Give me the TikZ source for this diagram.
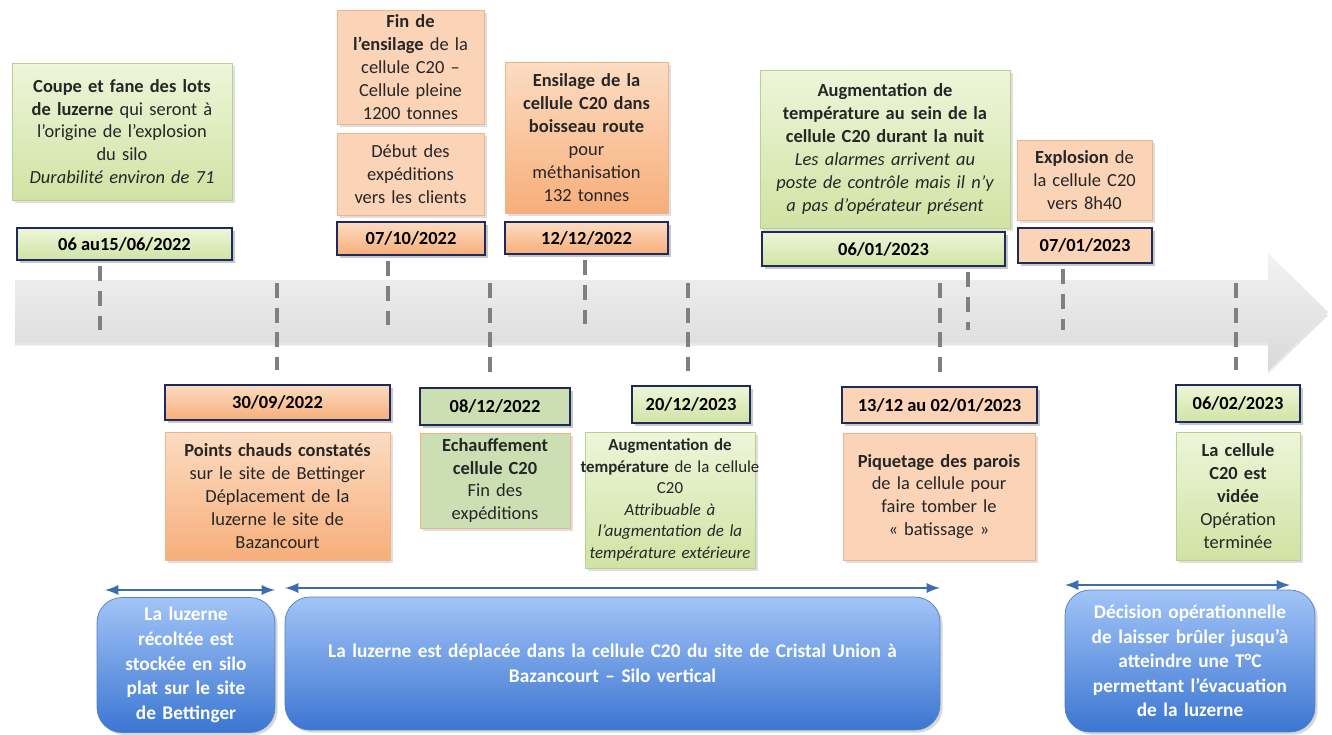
\documentclass[tikz,border=0pt]{standalone}
\usepackage{fontspec}
\setmainfont{Carlito}
\usepackage{tikz}
\usetikzlibrary{shadows}
\usetikzlibrary{arrows,shapes}
\usetikzlibrary{calc}
\definecolor{grnlite}{HTML}{EEF5D9}
\definecolor{grndark}{HTML}{D0E3A4}
\definecolor{grnflat}{HTML}{CCDFB2}
\definecolor{grnline}{HTML}{B9D08F}
\definecolor{orglite}{HTML}{FCDCC2}
\definecolor{orgdark}{HTML}{F7AE7A}
\definecolor{orgflat}{HTML}{FBD3B6}
\definecolor{orgline}{HTML}{EFB48E}
\definecolor{navy}{HTML}{1F2A5C}
\definecolor{bluelite}{HTML}{A2C4F7}
\definecolor{bluedark}{HTML}{3C76D2}
\definecolor{blueline}{HTML}{5082C4}
\definecolor{arrowblue}{HTML}{3C6EAF}
\definecolor{txt}{HTML}{262626}
\tikzstyle{box}=[rectangle,align=center,inner sep=0pt,text=txt,font=\fontsize{10.5}{13}\selectfont,drop shadow={opacity=0.25,shadow xshift=1.5pt,shadow yshift=-1.5pt}]
\tikzstyle{greenbox}=[box,draw=grnline,top color=grnlite,bottom color=grndark]
\tikzstyle{orangebox}=[box,draw=orgline,top color=orglite,bottom color=orgdark]
\tikzstyle{peachbox}=[box,draw=orgline,fill=orgflat]
\tikzstyle{datebox}=[box,draw=navy,line width=1.2pt,text=black,font=\fontsize{10.5}{12}\selectfont\bfseries]
\tikzstyle{phase}=[rectangle,rounded corners=0.5cm,align=center,inner sep=0pt,draw=blueline,top color=bluelite,bottom color=bluedark,text=white,font=\fontsize{11}{14}\selectfont\bfseries,drop shadow={opacity=0.3,shadow xshift=1.5pt,shadow yshift=-1.5pt}]
\tikzstyle{tick}=[draw=gray,line width=2pt,dash pattern=on 8.5pt off 5.5pt]
\tikzstyle{span}=[draw=arrowblue,line width=1.6pt,<->,>=latex]

\begin{document}
\begin{tikzpicture}[x=0.02cm,y=-0.02cm]
  \useasboundingbox (0,0) rectangle (1332,734);
  \fill[white] (0,0) rectangle (1332,734);

  % la fleche grise
  \path[top color=gray!10,bottom color=gray!30,drop shadow={opacity=0.2,shadow xshift=0pt,shadow yshift=-2pt}]
     (15,280) -- (1268,280) -- (1268,253) -- (1328,312) -- (1268,370) -- (1268,342) -- (15,342) -- cycle;

  % en haut
  \node[greenbox,minimum width=4.4cm,minimum height=2.74cm,text width=4.3cm] (t1) at (122,131.5)
     {{\bfseries Coupe et fane des lots\\de luzerne} qui seront à\\l’origine de l’explosion\\du silo\\\textit{Durabilité environ de 71}};
  \node[greenbox,datebox,minimum width=4.3cm,minimum height=0.64cm] (d1) at (124.5,244) {06 au15/06/2022};

  \node[peachbox,minimum width=2.94cm,minimum height=2.28cm,text width=2.9cm] (t2a) at (410.5,67)
     {{\bfseries Fin de\\l’ensilage} de la\\cellule C20 –\\Cellule pleine\\1200 tonnes};
  \node[peachbox,minimum width=2.94cm,minimum height=1.64cm,text width=2.9cm] (t2b) at (410.5,174)
     {Début des\\expéditions\\vers les clients};
  \node[orangebox,datebox,minimum width=2.96cm,minimum height=0.66cm] (d2) at (411,238.5) {07/10/2022};

  \node[orangebox,minimum width=3.26cm,minimum height=3.02cm,text width=3.2cm] (t3) at (586.5,137.5)
     {{\bfseries Ensilage de la\\cellule C20 dans\\boisseau route}\\pour\\méthanisation\\132 tonnes};
  \node[orangebox,datebox,minimum width=3.26cm,minimum height=0.64cm] (d3) at (586.5,238) {12/12/2022};

  \node[greenbox,minimum width=5cm,minimum height=3.16cm,text width=4.9cm] (t4) at (885,149)
     {{\bfseries Augmentation de\\température au sein de la\\cellule C20 durant la nuit}\\\textit{Les alarmes arrivent au\\poste de contrôle mais il n’y\\a pas d’opérateur présent}};
  \node[greenbox,datebox,minimum width=4.86cm,minimum height=0.68cm] (d4) at (883.5,249) {06/01/2023};

  \node[peachbox,minimum width=2.7cm,minimum height=1.6cm,text width=2.65cm] (t5) at (1084.5,180)
     {{\bfseries Explosion} de\\la cellule C20\\vers 8h40};
  \node[peachbox,datebox,minimum width=2.68cm,minimum height=0.7cm] (d5) at (1085,245.5) {07/01/2023};

  % en bas
  \node[orangebox,datebox,minimum width=4.5cm,minimum height=0.7cm] (d6) at (277.5,402.5) {30/09/2022};
  \node[orangebox,minimum width=4.5cm,minimum height=2.56cm,text width=4.4cm] (t6) at (277.5,496)
     {{\bfseries Points chauds constatés}\\sur le site de Bettinger\\Déplacement de la\\luzerne le site de\\Bazancourt};

  \node[box,fill=grnflat,datebox,minimum width=3cm,minimum height=0.74cm] (d7) at (495,406.5) {08/12/2022};
  \node[box,draw=orgline,fill=grnflat,minimum width=3cm,minimum height=1.9cm,text width=2.95cm] (t7) at (495,480.5)
     {{\bfseries Echauffement\\cellule C20}\\Fin des\\expéditions};

  \node[greenbox,datebox,minimum width=2.36cm,minimum height=0.74cm] (d8) at (691,404.5) {20/12/2023};
  \node[greenbox,minimum width=3.4cm,minimum height=2.72cm,text width=3.4cm,font=\fontsize{9.6}{12.2}\selectfont] (t8) at (670,500)
     {{\bfseries Augmentation de}\\\makebox[3.4cm]{{\bfseries température} de la cellule}\\C20\\\textit{Attribuable à\\l’augmentation de la\\température extérieure}};

  \node[peachbox,datebox,minimum width=3.9cm,minimum height=0.72cm] (d9) at (939.5,405) {13/12 au 02/01/2023};
  \node[peachbox,minimum width=3.84cm,minimum height=2.54cm,text width=3.8cm] (t9) at (939,496.5)
     {{\bfseries Piquetage des parois}\\de la cellule pour\\faire tomber le\\« batissage »};

  \node[greenbox,datebox,minimum width=2.48cm,minimum height=0.74cm] (d10) at (1238,403.5) {06/02/2023};
  \node[greenbox,minimum width=2.48cm,minimum height=2.56cm,text width=2.45cm] (t10) at (1238,496)
     {{\bfseries La cellule\\C20 est\\vidée}\\Opération\\terminée};

  % les reperes
  \foreach \d/\x in {d1/100, d2/388, d3/585, d4/968, d5/1063}
     \draw[tick] ([yshift=-3pt]\d.south -| \x,0) -- (\x,330);
  \foreach \d/\x in {d6/277, d7/490, d8/688, d9/940, d10/1236}
     \draw[tick] (\x,283) -- ([yshift=8pt]\d.north -| \x,0);

  % les phases
  \node[phase,minimum width=3.56cm,minimum height=2.7cm,text width=3.5cm] (p1) at (186,665)
     {La luzerne\\récoltée est\\stockée en silo\\plat sur le site\\de Bettinger};
  \node[phase,minimum width=13.1cm,minimum height=2.66cm,text width=12.8cm] (p2) at (612.5,663.5)
     {La luzerne est déplacée dans la cellule C20 du site de Cristal Union à\\Bazancourt – Silo vertical};
  \node[phase,minimum width=5cm,minimum height=2.84cm,text width=4.9cm] (p3) at (1190,661)
     {Décision opérationnelle\\de laisser brûler jusqu’à\\atteindre une T°C\\permettant l’évacuation\\de la luzerne};

  \coordinate (s1) at (105,590);  \coordinate (e1) at (275,590);
  \coordinate (s2) at (285,588);  \coordinate (e2) at (940,588);
  \coordinate (s3) at (1065,585); \coordinate (e3) at (1290,585);
  \foreach \source/\dest in {s1/e1, s2/e2, s3/e3}
     \draw[span] (\source) -- (\dest);

\end{tikzpicture}
\end{document}
